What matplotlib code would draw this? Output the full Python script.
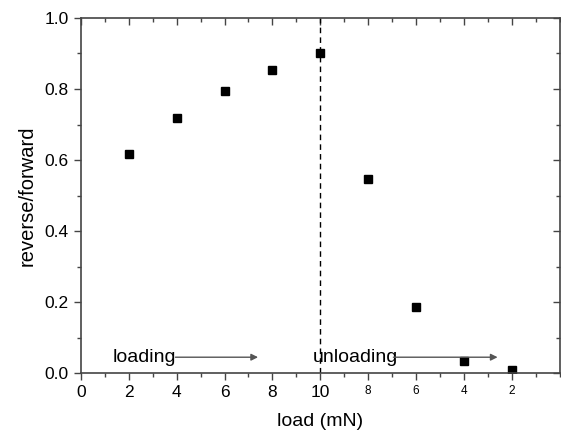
import matplotlib.pyplot as plt
from matplotlib.ticker import MultipleLocator

# data
positions = [2, 4, 6, 8, 10, 12, 14, 16, 18]
ratio = [0.617, 0.718, 0.793, 0.852, 0.902, 0.548, 0.187, 0.035, 0.010]
tick_pos = [0, 2, 4, 6, 8, 10, 12, 14, 16, 18]
tick_labels = ["0", "2", "4", "6", "8", "10", "8", "6", "4", "2"]

plt.rcParams['font.family'] = ['Liberation Sans', 'DejaVu Sans']

fig = plt.figure(figsize=(5.61, 4.37), dpi=100)
ax = fig.add_axes([0.144, 0.146, 0.854, 0.813])

ax.plot(positions, ratio, linestyle='none', marker='s', color='black', markersize=5.6)
ax.axvline(10, color='black', linestyle=(0, (4, 3)), linewidth=1.0)

ax.set_xlim(0, 20)
ax.set_ylim(0, 1.0)
ax.set_xticks(tick_pos)
ax.set_xticklabels(tick_labels)
for lab in ax.get_xticklabels()[6:]:
    lab.set_fontsize(8.5)
for lab in ax.get_xticklabels()[:6]:
    lab.set_fontsize(12.5)
ax.xaxis.set_minor_locator(MultipleLocator(1))
ax.set_yticks([0.0, 0.2, 0.4, 0.6, 0.8, 1.0])
ax.yaxis.set_minor_locator(MultipleLocator(0.1))
ax.tick_params(axis='y', labelsize=12.5)
ax.tick_params(which='major', length=5, width=1.0, color='#444444')
ax.tick_params(which='minor', length=3, width=1.0, color='#444444')
ax.yaxis.set_major_formatter(plt.FormatStrFormatter('%.1f'))

# mirrored ticks on top/right point inward
ax.tick_params(top=True, right=True, which='both')
for t in ax.xaxis.get_major_ticks() + ax.xaxis.get_minor_ticks():
    t.tick2line.set_marker(3)
for t in ax.yaxis.get_major_ticks() + ax.yaxis.get_minor_ticks():
    t.tick2line.set_marker(0)

for s in ax.spines.values():
    s.set_color('#444444')
    s.set_linewidth(1.2)

ax.set_xlabel("load (mN)", fontsize=14, labelpad=9)
ax.set_ylabel("reverse/forward", fontsize=14.5, labelpad=6)

ax.text(1.35, 0.045, "loading", fontsize=14, va='center', ha='left')
ax.annotate("", xy=(7.4, 0.045), xytext=(3.95, 0.045),
            arrowprops=dict(arrowstyle='-|>', color='#555555', lw=1.0,
                            mutation_scale=10, shrinkA=0, shrinkB=0))
ax.text(9.7, 0.045, "unloading", fontsize=14, va='center', ha='left')
ax.annotate("", xy=(17.4, 0.045), xytext=(13.05, 0.045),
            arrowprops=dict(arrowstyle='-|>', color='#555555', lw=1.0,
                            mutation_scale=10, shrinkA=0, shrinkB=0))

fig.savefig("out.png", dpi=100)
